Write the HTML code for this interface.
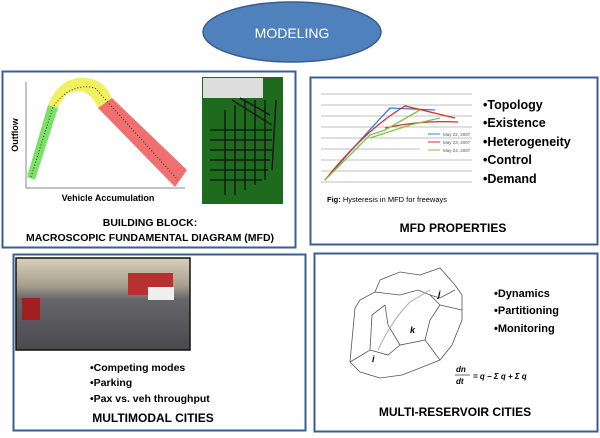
<!DOCTYPE html>
<html><head><meta charset="utf-8"><style>
body{margin:0;background:#fff;}
svg text{font-family:"Liberation Sans",Arial,sans-serif;}
.b{font-weight:bold;}
</style></head><body>
<svg width="600" height="433" viewBox="0 0 600 433" xmlns="http://www.w3.org/2000/svg">
<ellipse cx="292" cy="32" rx="89" ry="30" fill="#4f81bd" stroke="#385d8a" stroke-width="1.5"/>
<text x="292" y="38" font-size="14" fill="#fff" text-anchor="middle">MODELING</text>

<rect x="2.5" y="71.5" width="293" height="176" fill="#fff" stroke="#3b5f91" stroke-width="2"/>
<rect x="310.5" y="77.5" width="287" height="167" fill="#fff" stroke="#3b5f91" stroke-width="2"/>
<rect x="13.5" y="254.5" width="292" height="176" fill="#fff" stroke="#3b5f91" stroke-width="2"/>
<rect x="314.5" y="253.5" width="283" height="178" fill="#fff" stroke="#3b5f91" stroke-width="2"/>

<!-- box1 chart -->
<line x1="26" y1="82" x2="26" y2="188" stroke="#888"/>
<line x1="26" y1="188" x2="185" y2="188" stroke="#888"/>
<polygon points="27,177 35,180 58,108 48,105" fill="#7de06a"/>
<path d="M48,105 Q62,72 92,79 Q105,82 112,98 L98,108 Q92,93 80,91 Q65,90 58,108 Z" fill="#f0f060"/>
<polygon points="98,108 112,98 187,170 175,187" fill="#f07070"/>
<path d="M31,177 L53,107 Q70,82 95,88 L178,180" fill="none" stroke="#333" stroke-width="1" stroke-dasharray="1,2"/>
<text x="18" y="135" font-size="9" class="b" transform="rotate(-90 18 135)" text-anchor="middle">Outflow</text>
<text x="108" y="201" font-size="9" class="b" text-anchor="middle">Vehicle Accumulation</text>
<rect x="202" y="77" width="81" height="127" fill="#1e6b1e"/>
<rect x="203" y="78" width="60" height="20" fill="#ddd"/>
<g stroke="#111" stroke-width="1.3">
<line x1="210" y1="130" x2="272" y2="130"/><line x1="210" y1="140" x2="272" y2="140"/><line x1="210" y1="150" x2="272" y2="150"/><line x1="210" y1="160" x2="270" y2="160"/><line x1="210" y1="170" x2="268" y2="170"/><line x1="210" y1="180" x2="262" y2="180"/>
<line x1="225" y1="110" x2="225" y2="195"/><line x1="235" y1="105" x2="235" y2="195"/><line x1="245" y1="100" x2="245" y2="190"/><line x1="255" y1="100" x2="255" y2="185"/><line x1="265" y1="100" x2="265" y2="180"/>
<line x1="232" y1="100" x2="272" y2="125"/><line x1="240" y1="98" x2="270" y2="115"/><line x1="276" y1="100" x2="272" y2="170"/>
</g>
<text x="150" y="226" font-size="10.5" class="b" text-anchor="middle">BUILDING BLOCK:</text>
<text x="150" y="241" font-size="10.5" class="b" text-anchor="middle">MACROSCOPIC FUNDAMENTAL DIAGRAM (MFD)</text>

<!-- box2 chart -->
<g stroke="#aaa" stroke-width="0.7">
<line x1="321" y1="94" x2="472" y2="94"/><line x1="321" y1="105" x2="472" y2="105"/><line x1="321" y1="116" x2="472" y2="116"/><line x1="321" y1="127" x2="472" y2="127"/><line x1="321" y1="138" x2="472" y2="138"/><line x1="321" y1="149" x2="420" y2="149"/><line x1="321" y1="160" x2="472" y2="160"/><line x1="321" y1="171" x2="472" y2="171"/><line x1="321" y1="182" x2="472" y2="182"/>
</g>
<path d="M325,180 Q360,140 390,108 L435,110" fill="none" stroke="#3c78d8" stroke-width="1.3"/>
<path d="M325,180 Q365,130 405,106 L455,118 M385,128 Q420,120 458,122" fill="none" stroke="#d03030" stroke-width="1.3"/>
<path d="M325,180 Q360,145 370,135 L385,130 L420,110 M370,138 L410,125 L440,118" fill="none" stroke="#7cc440" stroke-width="1.3"/>
<line x1="428" y1="134" x2="440" y2="134" stroke="#3c78d8"/><text x="443" y="136" font-size="4.5" fill="#555">May 22, 2007</text>
<line x1="428" y1="142" x2="440" y2="142" stroke="#d03030"/><text x="443" y="144" font-size="4.5" fill="#555">May 23, 2007</text>
<line x1="428" y1="150" x2="440" y2="150" stroke="#7cc440"/><text x="443" y="152" font-size="4.5" fill="#555">May 24, 2007</text>
<g font-size="12.5" class="b">
<text x="483" y="109">•Topology</text><text x="483" y="127">•Existence</text><text x="483" y="146">•Heterogeneity</text><text x="483" y="164">•Control</text><text x="483" y="183">•Demand</text>
</g>
<text x="327" y="202" font-size="7.5"><tspan class="b">Fig:</tspan> Hysteresis in MFD for freeways</text>
<text x="453" y="232" font-size="12" class="b" text-anchor="middle">MFD PROPERTIES</text>

<!-- box3 -->
<defs><linearGradient id="ph" x1="0" y1="0" x2="0" y2="1"><stop offset="0" stop-color="#d8d0bc"/><stop offset="0.3" stop-color="#a89e8c"/><stop offset="0.45" stop-color="#66666a"/><stop offset="1" stop-color="#4a4a4e"/></linearGradient></defs>
<rect x="16" y="258" width="174" height="92" fill="url(#ph)" stroke="#111" stroke-width="1.5"/>
<rect x="128" y="273" width="45" height="22" fill="#b83030"/>
<rect x="148" y="287" width="26" height="13" fill="#eee"/>
<rect x="22" y="298" width="18" height="22" fill="#a02020"/>
<g font-size="10.5" class="b">
<text x="90" y="371">•Competing modes</text><text x="90" y="386">•Parking</text><text x="90" y="402">•Pax vs. veh throughput</text>
</g>
<text x="153" y="422" font-size="12" class="b" text-anchor="middle">MULTIMODAL  CITIES</text>

<!-- box4 -->
<g fill="none" stroke="#555" stroke-width="0.8">
<path d="M355,308 L360,300 L375,292 L380,280 L400,272 L420,275 L440,268 L455,285 L462,295 L462,320 L452,345 L440,360 L420,368 L402,375 L380,378 L360,372 L350,362 L352,340 Z"/>
<path d="M375,292 L400,295 L418,290 L430,295 L440,298 L455,290"/>
<path d="M385,305 L388,325 L400,345 L425,340 L430,320 L440,305 L430,295"/>
<path d="M350,362 L370,350 L388,355 L400,345 M370,350 L372,315 L385,305 M425,340 L440,360 M440,305 L462,310"/>
</g>
<path d="M378,350 Q392,320 410,302 L430,290" fill="none" stroke="#aaa" stroke-width="1"/>
<text x="438" y="297" font-size="9" class="b" font-style="italic">j</text>
<text x="410" y="333" font-size="9" class="b" font-style="italic">k</text>
<text x="372" y="362" font-size="9" class="b" font-style="italic">i</text>
<g font-size="11" class="b">
<text x="494" y="297">•Dynamics</text><text x="494" y="314">•Partitioning</text><text x="494" y="332">•Monitoring</text>
</g>
<g font-family="Liberation Serif,serif" font-style="italic" font-weight="bold" font-size="8">
<text x="456" y="372">dn</text><line x1="455" y1="375" x2="470" y2="375" stroke="#000" stroke-width="0.6"/><text x="456" y="384">dt</text>
<text x="473" y="379">= q − Σ q   + Σ q</text>
</g>
<text x="455" y="416" font-size="12" class="b" text-anchor="middle">MULTI-RESERVOIR CITIES</text>
</svg>
</body></html>
